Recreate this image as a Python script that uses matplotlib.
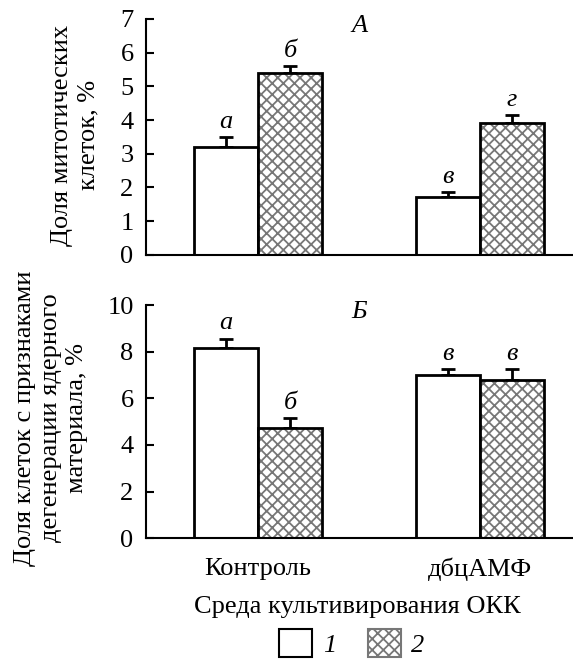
import numpy as np
import matplotlib.pyplot as plt
from matplotlib.patches import Patch

plt.rcParams['font.family'] = ['Liberation Serif', 'DejaVu Serif']
plt.rcParams['font.size'] = 19
plt.rcParams['hatch.linewidth'] = 1.3

groups = ['Контроль', 'дбцАМФ']
series_names = ['1', '2']

# panel A: mitotic cells, %
mit_vals = [[3.2, 1.72], [5.4, 3.92]]
mit_err = [[0.3, 0.15], [0.2, 0.23]]
mit_letters = [['а', 'в'], ['б', 'г']]

# panel B: degenerating nuclei, %
deg_vals = [[8.15, 7.0], [4.75, 6.78]]
deg_err = [[0.42, 0.25], [0.4, 0.47]]
deg_letters = [['а', 'в'], ['б', 'в']]

fig = plt.figure(figsize=(5.73, 6.62), dpi=100)
ax1 = fig.add_axes([0.255, 0.615, 0.745, 0.3565])
ax2 = fig.add_axes([0.255, 0.187, 0.745, 0.352])

x = np.arange(len(groups))
w = 0.29
hatch_gray = '#777777'


def draw(ax, vals, errs, letters, ymax, yticks, title, pad):
    for i in range(2):
        pos = x + (i - 0.5) * w
        if i == 0:
            ax.bar(pos, vals[i], w, color='white', edgecolor='black', linewidth=2, zorder=2)
        else:
            ax.bar(pos, vals[i], w, color='white', edgecolor=hatch_gray, hatch='xxx',
                   linewidth=0, zorder=2)
            ax.bar(pos, vals[i], w, fill=False, edgecolor='black', linewidth=2, zorder=3)
        ax.errorbar(pos, vals[i], yerr=[np.zeros(len(pos)), errs[i]], fmt='none',
                    ecolor='black', elinewidth=2, capsize=5, capthick=2, zorder=1)
        for p, v, e, t in zip(pos, vals[i], errs[i], letters[i]):
            ax.text(p, v + e + pad, t, ha='center', va='bottom', style='italic')
    ax.set_xlim(-0.505, 1.42)
    ax.set_ylim(0, ymax)
    ax.set_yticks(yticks)
    ax.spines['top'].set_visible(False)
    ax.spines['right'].set_visible(False)
    ax.spines['left'].set_linewidth(1.5)
    ax.spines['bottom'].set_linewidth(1.5)
    ax.tick_params(axis='y', direction='in', length=6, width=1.5, pad=9)
    ax.tick_params(axis='x', length=0, pad=14)
    ax.text(0.5, 0.97, title, transform=ax.transAxes, ha='center', va='center',
            style='italic')


draw(ax1, mit_vals, mit_err, mit_letters, 7, range(0, 8), 'А', 0.12)
draw(ax2, deg_vals, deg_err, deg_letters, 10, range(0, 11, 2), 'Б', 0.2)

ax1.set_xticks([])
ax2.set_xticks(x)
ax2.set_xticklabels(groups)

fig.text(75 / 573, 1 - 135 / 662, 'Доля митотических\nклеток, %', rotation=90,
         ha='center', va='center', multialignment='center', linespacing=1.25)
fig.text(51 / 573, 1 - 418 / 662, 'Доля клеток с признаками\nдегенерации ядерного\nматериала, %',
         rotation=90, ha='center', va='center', multialignment='center', linespacing=1.25)
fig.text(357 / 573, 1 - 607 / 662, 'Среда культивирования ОКК', ha='center', va='center')

handles = [Patch(facecolor='white', edgecolor='black', linewidth=1.5),
           Patch(facecolor='white', edgecolor=hatch_gray, hatch='xxx', linewidth=1.5)]
leg = fig.legend(handles, series_names, loc='center', bbox_to_anchor=(352 / 573, 1 - 643 / 662),
                 ncol=2, frameon=False, handlelength=1.25, handleheight=1.25,
                 columnspacing=1.2, handletextpad=0.4, borderpad=0,
                 prop={'style': 'italic', 'size': 19})

fig.savefig('out.png', dpi=100)
